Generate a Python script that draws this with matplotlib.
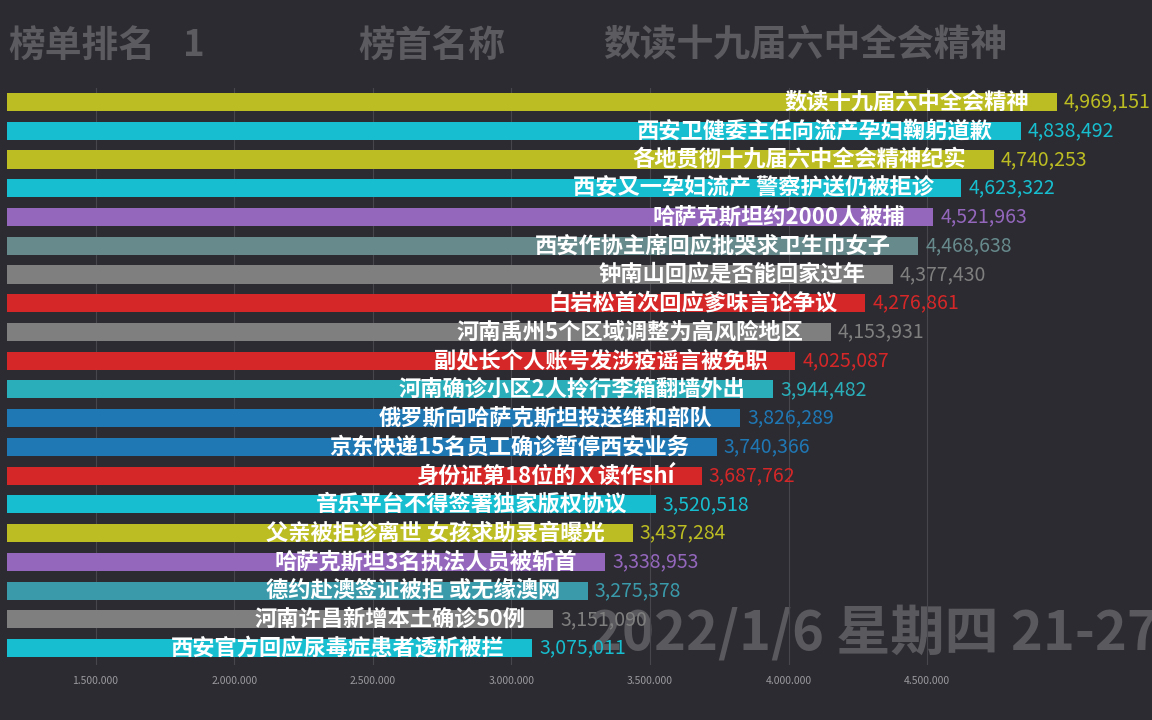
import matplotlib
matplotlib.use('Agg')
import matplotlib.pyplot as plt
from matplotlib.ticker import FuncFormatter

plt.rcParams['font.family'] = ['Noto Sans CJK SC', 'DejaVu Sans']

names = ['数读十九届六中全会精神', '西安卫健委主任向流产孕妇鞠躬道歉', '各地贯彻十九届六中全会精神纪实',
         '西安又一孕妇流产 警察护送仍被拒诊', '哈萨克斯坦约2000人被捕', '西安作协主席回应批哭求卫生巾女子',
         '钟南山回应是否能回家过年', '白岩松首次回应爹味言论争议', '河南禹州5个区域调整为高风险地区',
         '副处长个人账号发涉疫谣言被免职', '河南确诊小区2人拎行李箱翻墙外出', '俄罗斯向哈萨克斯坦投送维和部队',
         '京东快递15名员工确诊暂停西安业务', '身份证第18位的Ｘ读作shí', '音乐平台不得签署独家版权协议',
         '父亲被拒诊离世 女孩求助录音曝光', '哈萨克斯坦3名执法人员被斩首', '德约赴澳签证被拒 或无缘澳网',
         '河南许昌新增本土确诊50例', '西安官方回应尿毒症患者透析被拦']
values = [4969151, 4838492, 4740253, 4623322, 4521963, 4468638, 4377430, 4276861, 4153931, 4025087,
          3944482, 3826289, 3740366, 3687762, 3520518, 3437284, 3338953, 3275378, 3151090, 3075011]
colors = ['#bcbd22', '#17becf', '#bcbd22', '#17becf', '#9467bd', '#678a8c', '#7f7f7f', '#d62728',
          '#7f7f7f', '#d62728', '#2aafba', '#1f77b4', '#1f77b4', '#d62728', '#17becf', '#bcbd22',
          '#9467bd', '#3a9aaa', '#7f7f7f', '#17becf']
ticks = [1500000, 2000000, 2500000, 3000000, 3500000, 4000000, 4500000]

bg = '#2c2b31'
fig = plt.figure(figsize=(11.52, 7.2), dpi=100, facecolor=bg)
ax = fig.add_axes([7 / 1152, 55 / 720, 1 - 7 / 1152, 577 / 720], facecolor=bg)

y = list(range(len(names)))
ax.barh(y, values, height=0.63, color=colors, zorder=3)

for i, (n, v, c) in enumerate(zip(names, values, colors)):
    ax.annotate(n, (v, i), xytext=(-20, 0), textcoords='offset points', ha='right', va='center',
                color='white', fontsize=16, fontweight='heavy', zorder=5)
    ax.annotate(f'{v:,}', (v, i), xytext=(5, 0), textcoords='offset points', ha='left', va='center',
                color=c, fontsize=14, zorder=5)

ax.set_xlim(1180700, 5311300)
ax.set_ylim(19.59, -0.49)
ax.set_yticks([])
ax.set_xticks(ticks)
ax.xaxis.set_major_formatter(FuncFormatter(lambda x, p: f'{int(x):,}'.replace(',', '.')))
ax.tick_params(axis='x', length=0, colors='#9a9a9e', labelsize=7.5, pad=8)
ax.grid(axis='x', color='#47464c', linewidth=0.8, zorder=0)
for s in ax.spines.values():
    s.set_visible(False)

hc = '#5c5c60'
fig.text(8 / 1152, 1 - 46 / 720, '榜单排名', fontsize=26.5, fontweight='bold', color=hc, va='center')
fig.text(183 / 1152, 1 - 46 / 720, '1', fontsize=26.5, fontweight='bold', color=hc, va='center')
fig.text(358 / 1152, 1 - 46 / 720, '榜首名称', fontsize=26.5, fontweight='bold', color=hc, va='center')
fig.text(603 / 1152, 1 - 46 / 720, names[0], fontsize=26.5, fontweight='bold', color=hc, va='center')

# date stamp sits behind the grid and labels
ax.text(590 / 1152, 1 - 634 / 720, '2022/1/6 星期四 21-27', transform=fig.transFigure,
        fontsize=39, fontweight='bold', color='#5a5a5e', va='center', ha='left',
        zorder=-1, clip_on=False)

fig.savefig('out.png', dpi=100, facecolor=bg)
